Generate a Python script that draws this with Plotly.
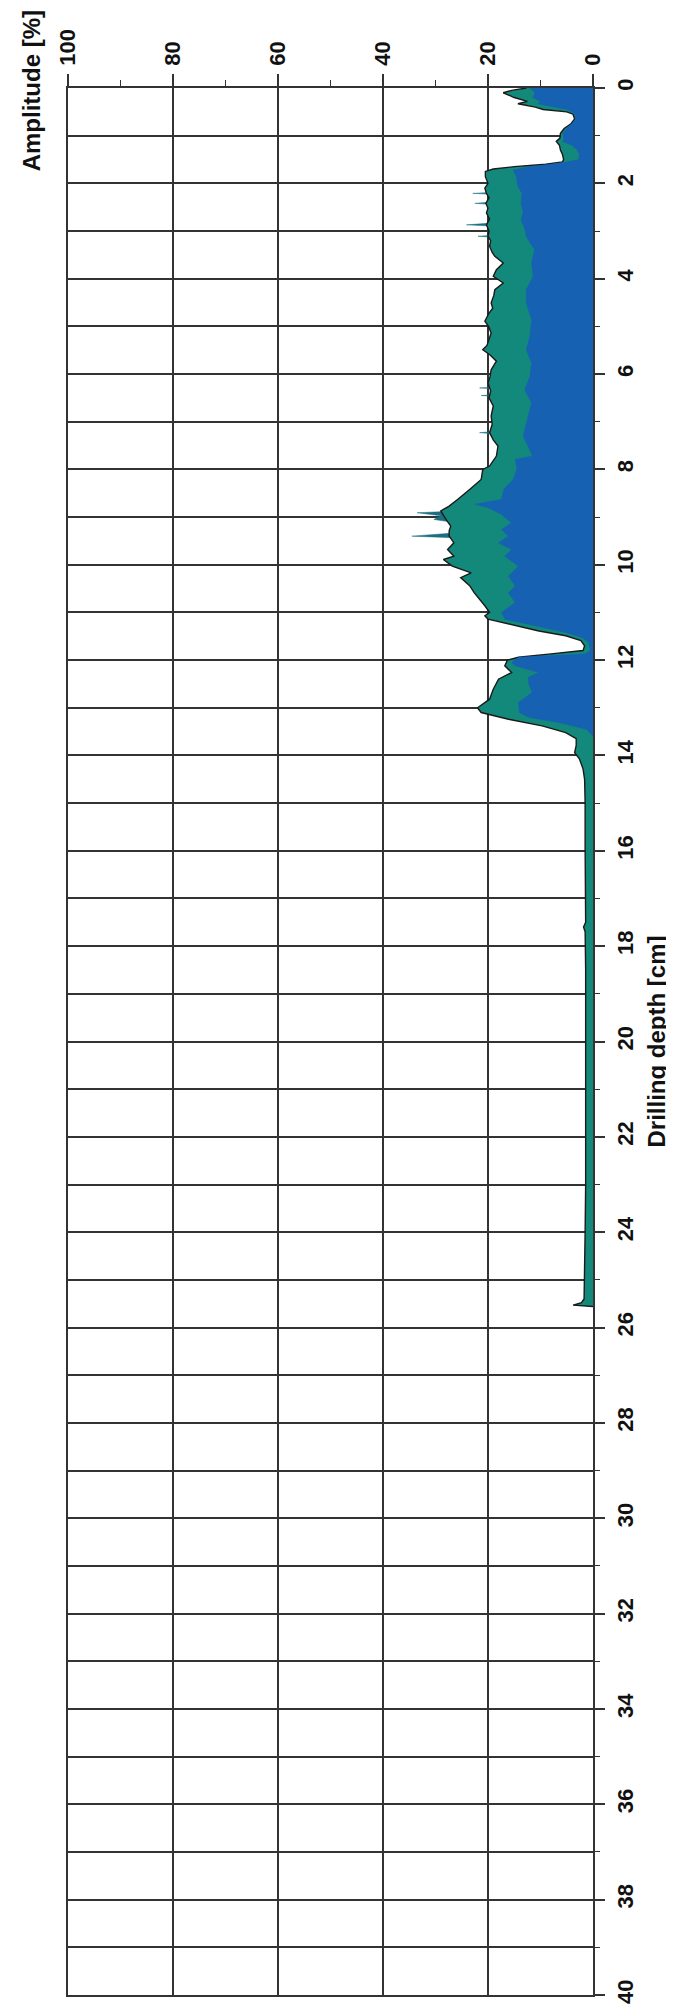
import plotly.graph_objects as go

# ---------------- data ----------------
# Envelope (green/teal, black outline): depth [cm], amplitude [%]
green_depth = [0.0, 0.05, 0.1, 0.2, 0.28, 0.33, 0.4, 0.45, 0.5, 0.55, 0.65, 0.75, 0.85, 0.95,
               1.05, 1.12, 1.2, 1.3, 1.4, 1.5, 1.55, 1.6, 1.65, 1.7, 1.75, 1.86, 2.0, 2.1,
               2.21, 2.3, 2.42, 2.52, 2.62, 2.75, 2.87, 3.0, 3.11, 3.2, 3.32, 3.45, 3.53, 3.67,
               3.81, 3.95, 4.09, 4.23, 4.35, 4.51, 4.62, 4.72, 4.89, 5.0, 5.14, 5.31, 5.4, 5.49,
               5.6, 5.73, 5.91, 6.05, 6.19, 6.35, 6.5, 6.67, 6.88, 7.05, 7.23, 7.38, 7.51, 7.72,
               7.93, 8.0, 8.21, 8.42, 8.52, 8.63, 8.77, 8.87, 9.05, 9.19, 9.29, 9.4, 9.54, 9.68,
               9.82, 9.89, 10.03, 10.17, 10.27, 10.44, 10.59, 10.72, 10.86, 11.0, 11.07, 11.14,
               11.21, 11.28, 11.39, 11.49, 11.59, 11.7, 11.8, 11.87, 11.94, 12.0, 12.12, 12.26,
               12.4, 12.61, 12.82, 13.0, 13.1, 13.24, 13.38, 13.52, 13.65, 13.79, 13.94, 14.07,
               14.28, 14.5, 15.0, 16.0, 17.0, 17.5, 17.6, 17.7, 18.5, 19.0, 20.0, 21.0, 22.0,
               23.0, 24.0, 24.5, 25.0, 25.4, 25.48, 25.53, 25.56]
green_amp = [12.7, 15.5, 17.1, 15.0, 12.5, 14.3, 11.0, 9.5, 5.0, 3.8, 3.5, 4.2, 5.5, 6.2,
             6.3, 7.0, 6.4, 6.2, 5.8, 5.6, 5.8, 9.0, 15.0, 19.0, 20.5, 20.5, 20.0, 20.6,
             20.3, 19.8, 20.4, 20.0, 20.3, 19.7, 20.3, 19.8, 20.0, 19.5, 19.7, 19.2, 18.7, 17.1,
             18.4, 19.0, 17.1, 18.7, 18.9, 19.4, 19.1, 19.8, 20.6, 19.9, 19.4, 20.0, 20.2, 21.0,
             19.6, 18.4, 19.4, 19.6, 20.0, 19.5, 19.8, 19.0, 19.4, 19.2, 19.7, 19.0, 18.1, 18.4,
             19.7, 21.0, 21.3, 23.5, 24.5, 25.8, 27.4, 29.0, 28.0, 27.1, 27.4, 27.4, 26.5, 27.7,
             26.5, 28.5, 26.8, 23.2, 25.2, 23.5, 22.6, 21.6, 20.6, 19.7, 20.6, 20.0,
             17.4, 14.8, 10.3, 5.2, 2.3, 1.6, 1.9, 8.0, 14.2, 16.3, 16.8, 15.5,
             18.0, 19.0, 19.7, 22.0, 21.3, 16.1, 9.7, 5.2, 3.2, 3.2, 3.5, 2.6,
             1.9, 1.6, 1.5, 1.5, 1.4, 1.4, 1.8, 1.5, 1.4, 1.4, 1.3, 1.4, 1.3,
             1.4, 1.5, 1.6, 1.6, 1.7, 2.2, 3.8, 0.0]

# Drilling curve (blue, drawn in front)
blue_depth = [0.0, 0.1, 0.2, 0.28, 0.33, 0.4, 0.45, 0.5, 0.55, 0.65, 0.75, 0.85, 0.95, 1.05,
              1.12, 1.2, 1.3, 1.4, 1.5, 1.55, 1.6, 1.65, 1.7, 1.72, 1.86, 2.07, 2.21, 2.42,
              2.6, 2.77, 2.95, 3.11, 3.25, 3.39, 3.67, 3.95, 4.23, 4.51, 4.86, 5.2, 5.49, 5.77,
              6.05, 6.33, 6.6, 7.02, 7.3, 7.72, 7.79, 8.0, 8.21, 8.42, 8.63, 8.73, 8.8, 8.94,
              9.12, 9.26, 9.4, 9.54, 9.68, 9.82, 10.03, 10.24, 10.44, 10.59, 10.79, 11.0,
              11.14, 11.28, 11.42, 11.53, 11.63, 11.8, 11.87, 11.94, 12.05, 12.12, 12.26,
              12.36, 12.47, 12.68, 12.89, 13.1, 13.2, 13.31, 13.45, 13.59]
blue_amp = [12.0, 11.0, 11.5, 10.0, 10.5, 7.0, 5.0, 4.0, 3.5, 3.3, 4.0, 5.0, 5.8, 5.5,
            5.8, 4.0, 3.0, 2.6, 2.7, 5.0, 8.0, 12.0, 14.0, 15.2, 14.6, 14.3, 13.5, 13.7,
            13.3, 13.7, 13.0, 12.7, 12.0, 11.1, 11.7, 11.4, 12.7, 12.7, 11.7, 12.0, 12.7, 11.7,
            12.0, 13.0, 11.7, 12.7, 13.3, 11.5, 14.8, 14.5, 15.2, 17.0, 17.4, 22.5, 20.0, 17.5,
            15.5, 17.4, 16.1, 18.0, 15.5, 16.8, 14.2, 16.1, 14.8, 16.1, 14.8, 17.4,
            16.8, 11.0, 5.2, 2.0, 0.8, 0.5, 1.5, 14.2, 15.5, 14.8, 10.3,
            12.3, 12.3, 11.6, 14.2, 14.0, 12.3, 6.5, 1.3, 0.0]

# Narrow dark-teal peaks that reach past the outlined envelope
peak_depth = [2.1, 2.17, 2.21, 2.25, 2.36, 2.42, 2.47, 2.8, 2.87, 2.92, 3.06, 3.11, 3.16,
              6.2, 6.26, 6.29, 6.33, 6.41, 6.45, 6.5, 7.17, 7.23, 7.28,
              8.82, 8.91, 8.97, 9.05, 9.12, 9.33, 9.4, 9.46]
peak_amp = [15.0, 15.0, 22.9, 15.0, 15.0, 22.5, 15.0, 15.0, 24.1, 15.0, 15.0, 21.9, 15.0,
            15.0, 15.0, 21.6, 15.0, 15.0, 21.3, 15.0, 15.0, 21.6, 15.0,
            15.0, 33.5, 29.0, 30.3, 26.0, 26.0, 34.5, 20.0]

amp_ticks = [0, 20, 40, 60, 80, 100]
depth_ticks = list(range(0, 41, 2))

# ---------------- styles ----------------
BLUE = "#1661b1"
GREEN = "#13897b"
TEAL = "#1b6f80"
GRID = "#333333"
FONT = "Liberation Sans"

fig = go.Figure()
fig.add_trace(go.Scatter(x=peak_amp, y=peak_depth, mode="lines", fill="tozerox",
                         fillcolor=TEAL, line=dict(color=TEAL, width=0.5),
                         hoverinfo="skip", showlegend=False))
fig.add_trace(go.Scatter(x=green_amp, y=green_depth, mode="lines", fill="tozerox",
                         fillcolor=GREEN, line=dict(color="#1a1a1a", width=1.4),
                         showlegend=False))
fig.add_trace(go.Scatter(x=blue_amp, y=blue_depth, mode="lines", fill="tozerox",
                         fillcolor=BLUE, line=dict(color=BLUE, width=0.6),
                         showlegend=False))

fig.update_layout(
    width=674, height=2011,
    margin=dict(l=60, r=89, t=80, b=24),
    paper_bgcolor="white", plot_bgcolor="white",
    showlegend=False,
    xaxis=dict(
        range=[100, 0], side="top", tickvals=amp_ticks,
        ticktext=[str(v) for v in amp_ticks], tickangle=-90,
        tickfont=dict(family=FONT, size=22, color="#111", weight="bold"),
        ticks="outside", ticklen=12, tickwidth=1.6, tickcolor=GRID,
        showgrid=True, gridcolor=GRID, gridwidth=1.6,
        showline=True, linecolor=GRID, linewidth=1.6, mirror=True,
        zeroline=False,
        minor=dict(dtick=10, ticks="outside", ticklen=6, tickwidth=1.4,
                   tickcolor=GRID, showgrid=False),
        ticklabelstandoff=4,
    ),
    yaxis=dict(
        range=[40, 0], side="right", tickvals=depth_ticks,
        ticktext=[str(v) for v in depth_ticks], tickangle=-90,
        tickfont=dict(family=FONT, size=22, color="#111", weight="bold"),
        ticks="outside", ticklen=10, tickwidth=1.6, tickcolor=GRID,
        showgrid=True, gridcolor=GRID, gridwidth=1.6,
        showline=True, linecolor=GRID, linewidth=1.6, mirror=True,
        zeroline=False,
        minor=dict(dtick=1, ticks="outside", ticklen=5, tickwidth=1.4,
                   tickcolor=GRID, showgrid=True, gridcolor=GRID, gridwidth=1.6),
        ticklabelstandoff=2,
    ),
    annotations=[
        dict(text="Amplitude [%]", textangle=-90, xref="paper", yref="paper",
             x=-0.07, y=0.9984, xanchor="center", yanchor="middle", showarrow=False,
             font=dict(family=FONT, size=24, color="#111", weight="bold")),
        dict(text="Drilling depth [cm]", textangle=-90, xref="paper", yref="y",
             x=1.12, y=20, xanchor="center", yanchor="middle", showarrow=False,
             font=dict(family=FONT, size=24, color="#111", weight="bold")),
    ],
)

fig.write_html("out.html")
